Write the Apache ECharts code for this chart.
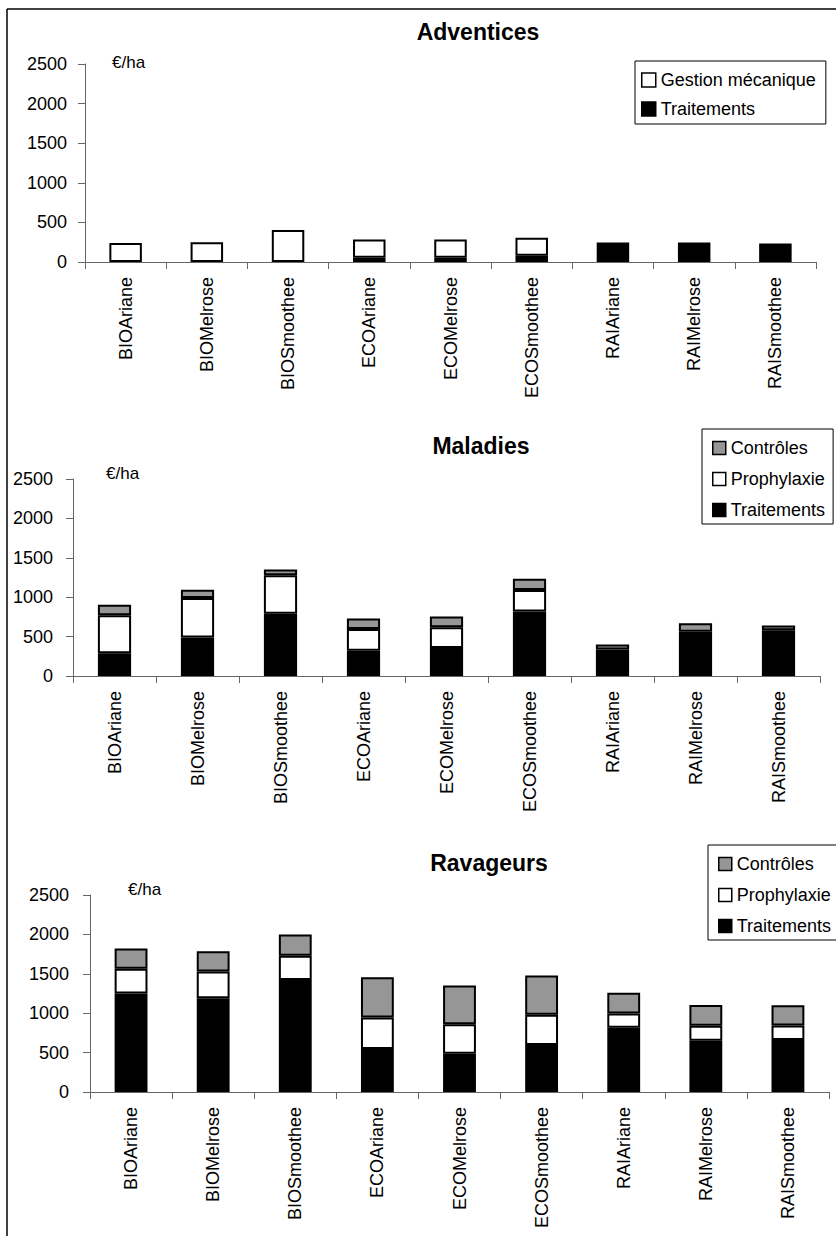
<!DOCTYPE html>
<html>
<head>
<meta charset="utf-8">
<script src="https://cdn.jsdelivr.net/npm/echarts@6/dist/echarts.min.js"></script>
<style>
html,body{margin:0;padding:0;background:#fff;}
#c{width:836px;height:1236px;}
</style>
</head>
<body>
<div id="c"></div>
<script>
const categories = ['BIOAriane','BIOMelrose','BIOSmoothee','ECOAriane','ECOMelrose','ECOSmoothee','RAIAriane','RAIMelrose','RAISmoothee'];
const yTicks = [0, 500, 1000, 1500, 2000, 2500];
const chartTitles = ['Adventices', 'Maladies', 'Ravageurs'];
const unitLabel = '€/ha';

// Adventices
const advTraitements = [0, 0, 0, 55, 55, 80, 245, 245, 235];
const advGestion = [240, 250, 405, 230, 230, 225, 0, 0, 0];

// Maladies
const malTraitements = [290, 490, 790, 320, 355, 820, 335, 560, 580];
const malProphylaxie = [480, 500, 490, 275, 265, 270, 0, 0, 0];
const malControles = [135, 105, 70, 135, 135, 145, 65, 110, 60];

// Ravageurs
const ravTraitements = [1250, 1190, 1420, 545, 485, 595, 815, 650, 660];
const ravProphylaxie = [315, 340, 310, 400, 375, 385, 180, 190, 185];
const ravControles = [255, 255, 270, 510, 490, 500, 265, 265, 255];

const BLACK = '#000000', WHITE = '#ffffff', GRAY = '#969696';
const FONT = "'Liberation Sans', Arial, sans-serif";

const grids = [
  {left: 85, top: 64, width: 731, height: 198},
  {left: 73, top: 479, width: 747, height: 197},
  {left: 90, top: 895, width: 739, height: 197}
];
const labelMargins = [18, 20, 21];

const xAxes = grids.map((g, i) => ({
  type: 'category', gridIndex: i, data: categories,
  axisLine: {show: true, lineStyle: {color: '#666', width: 1}},
  axisTick: {show: true, interval: 0, length: 7, lineStyle: {color: '#666'}},
  axisLabel: {interval: 0, rotate: 90, margin: 15, color: '#000', fontFamily: FONT, fontSize: 18},
  splitLine: {show: false}
}));
const yAxes = grids.map((g, i) => ({
  type: 'value', gridIndex: i, min: yTicks[0], max: yTicks[yTicks.length - 1], interval: 500,
  axisLine: {show: true, lineStyle: {color: '#666', width: 1}},
  axisTick: {show: true, length: 7, lineStyle: {color: '#666'}},
  axisLabel: {margin: labelMargins[i], color: '#000', fontFamily: FONT, fontSize: 18,
    formatter: v => String(v)},
  splitLine: {show: false}
}));

function bar(name, data, color, idx) {
  return {
    name: name, type: 'bar', data: data.map(v => v === 0 ? '-' : v), stack: 's' + idx,
    xAxisIndex: idx, yAxisIndex: idx, barWidth: '40%',
    itemStyle: {color: color, borderColor: '#000', borderWidth: 2},
    emphasis: {disabled: true},
    animation: false
  };
}

const series = [
  bar('Traitements', advTraitements, BLACK, 0),
  bar('Gestion mécanique', advGestion, WHITE, 0),
  bar('Traitements', malTraitements, BLACK, 1),
  bar('Prophylaxie', malProphylaxie, WHITE, 1),
  bar('Contrôles', malControles, GRAY, 1),
  bar('Traitements', ravTraitements, BLACK, 2),
  bar('Prophylaxie', ravProphylaxie, WHITE, 2),
  bar('Contrôles', ravControles, GRAY, 2)
];

const legendBase = {
  orient: 'vertical', icon: 'rect', itemWidth: 13, itemHeight: 13,
  backgroundColor: '#fff', borderColor: '#000', borderWidth: 1, borderRadius: 0,
  textStyle: {fontFamily: FONT, fontSize: 18, color: '#000'},
  itemStyle: {borderColor: '#000', borderWidth: 1.5},
  selectedMode: false
};
const legends = [
  Object.assign({}, legendBase, {left: 635, top: 61, itemGap: 11, padding: [10, 10, 6, 6], itemWidth: 14, itemHeight: 14, data: ['Gestion mécanique', 'Traitements']}),
  Object.assign({}, legendBase, {left: 702, top: 429, itemGap: 13, padding: [10, 8, 5, 10], data: ['Contrôles', 'Prophylaxie', 'Traitements']}),
  Object.assign({}, legendBase, {left: 708, top: 845, itemGap: 13, padding: [10, 8, 5, 10], data: ['Contrôles', 'Prophylaxie', 'Traitements']})
];

const titlePos = [[478, 32], [481, 446], [489, 863]];
const unitPos = [[112, 62], [106, 473], [128, 889]];
const graphics = [
  {type: 'line', shape: {x1: 7, y1: 9, x2: 836, y2: 9}, style: {stroke: '#000', lineWidth: 1.5}, silent: true},
  {type: 'line', shape: {x1: 7, y1: 9, x2: 7, y2: 1236}, style: {stroke: '#000', lineWidth: 1.5}, silent: true}
];
chartTitles.forEach((t, i) => {
  graphics.push({type: 'text', x: titlePos[i][0], y: titlePos[i][1], silent: true,
    style: {text: t, fill: '#000', font: "bold 23px " + FONT, textAlign: 'center', textVerticalAlign: 'middle'}});
  graphics.push({type: 'text', x: unitPos[i][0], y: unitPos[i][1], silent: true,
    style: {text: unitLabel, fill: '#000', font: "17px " + FONT, textAlign: 'left', textVerticalAlign: 'middle'}});
});

const chart = echarts.init(document.getElementById('c'), null, {renderer: 'svg'});
chart.setOption({
  animation: false,
  backgroundColor: '#fff',
  grid: grids,
  xAxis: xAxes,
  yAxis: yAxes,
  legend: legends,
  series: series,
  graphic: graphics
});
</script>
</body>
</html>
